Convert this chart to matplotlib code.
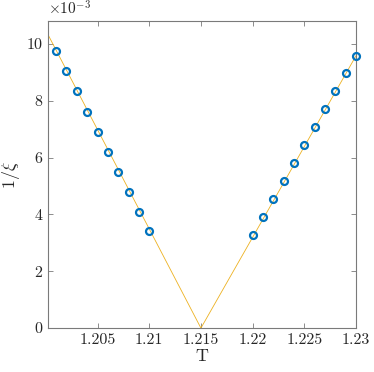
import numpy as np
import matplotlib
matplotlib.use("Agg")
import matplotlib.pyplot as plt

# measured points (1/xi, units of 1e-3)
T_low = [1.201, 1.202, 1.203, 1.204, 1.205, 1.206, 1.207, 1.208, 1.209, 1.210]
inv_xi_low = [9.75, 9.05, 8.35, 7.61, 6.90, 6.19, 5.49, 4.79, 4.10, 3.40]
T_high = [1.220, 1.221, 1.222, 1.223, 1.224, 1.225, 1.226, 1.227, 1.228, 1.229, 1.230]
inv_xi_high = [3.26, 3.90, 4.54, 5.19, 5.82, 6.45, 7.09, 7.71, 8.35, 8.96, 9.58]

# fitted V-shaped lines
T_fit = [1.2002, 1.215, 1.230]
inv_xi_fit = [10.33, 0.0, 9.58]

xticks = [1.205, 1.21, 1.215, 1.22, 1.225, 1.23]
xticklabels = ["1.205", "1.21", "1.215", "1.22", "1.225", "1.23"]
yticks = [0, 2, 4, 6, 8, 10]

BLUE = "#0072BD"
YELLOW = "#EDB120"
AXC = "#7a7a7a"

plt.rcParams["font.family"] = "serif"
plt.rcParams["font.serif"] = ["cmr10", "DejaVu Serif"]
plt.rcParams["mathtext.fontset"] = "cm"
plt.rcParams["axes.unicode_minus"] = False

fig = plt.figure(figsize=(3.74, 3.72), dpi=100)
ax = fig.add_axes([0.128, 0.118, 0.824, 0.8255])

ax.plot(T_fit, np.array(inv_xi_fit) * 1e-3, color=YELLOW, lw=0.6, zorder=2)
ax.plot(T_low, np.array(inv_xi_low) * 1e-3, "o", ms=5, mfc="none", mec=BLUE, mew=1.6, zorder=3)
ax.plot(T_high, np.array(inv_xi_high) * 1e-3, "o", ms=5, mfc="none", mec=BLUE, mew=1.6, zorder=3,
        clip_on=False)

ax.set_xlim(1.2002, 1.2300)
ax.set_ylim(0, 10.8e-3)
ax.set_xticks(xticks)
ax.set_xticklabels(xticklabels)
ax.set_yticks(np.array(yticks) * 1e-3)
ax.set_yticklabels([str(v) for v in yticks])

for s in ax.spines.values():
    s.set_color(AXC)
    s.set_linewidth(0.8)
ax.tick_params(direction="in", top=True, right=True, length=3.5, width=0.6,
               color=AXC, labelsize=11.5, labelcolor="#262626", pad=4)

ax.text(0.0, 1.012, r"$\times 10^{-3}$", transform=ax.transAxes, ha="left", va="bottom",
        fontsize=11, color="#262626")
ax.set_xlabel("T", fontsize=13, color="#262626", labelpad=1)
ax.set_ylabel(r"$1/\xi$", fontsize=13, color="#262626", labelpad=3)

fig.savefig("out.png", dpi=100, facecolor="white")
